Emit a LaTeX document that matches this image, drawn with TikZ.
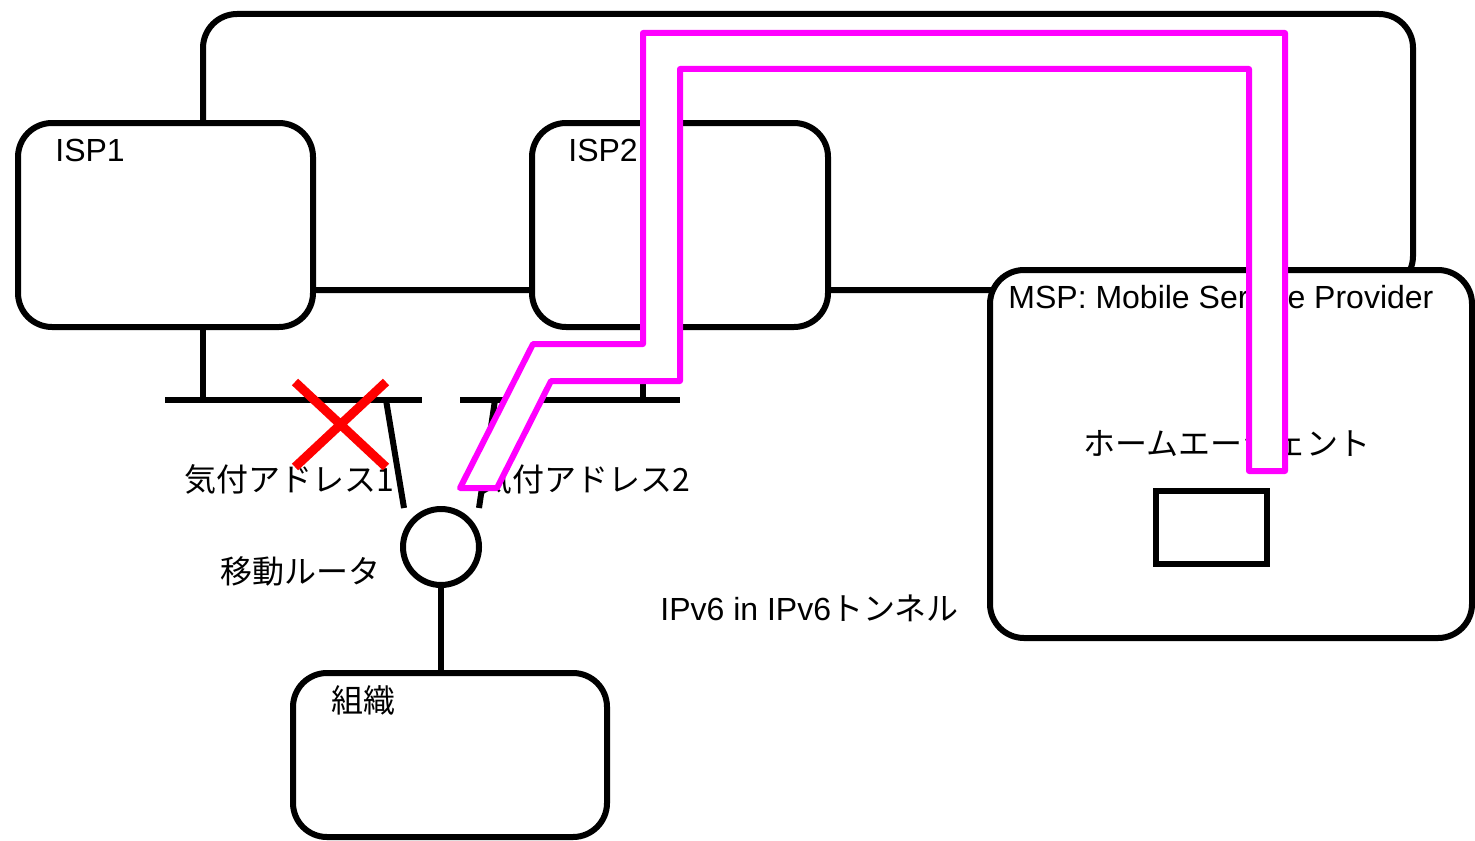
\documentclass[tikz,border=0pt]{standalone}
\usepackage{fontspec}
\setmainfont{Liberation Sans}
\newfontfamily\jp{Noto Sans CJK JP}
\usetikzlibrary{calc}
\definecolor{tubepink}{RGB}{255,0,255}
\definecolor{crossred}{RGB}{255,0,0}

\begin{document}
\begin{tikzpicture}[x=0.5pt, y=-0.5pt,
  box/.style={draw, line width=3pt, rounded corners=17pt, fill=white, inner sep=0pt},
  wire/.style={line width=3pt},
  lbl/.style={inner sep=0pt, font=\fontsize{16pt}{19pt}\selectfont},
  cross/.style={draw=crossred, line width=4.5pt},
  tube/.style={draw=tubepink, line width=3pt, fill=white, line join=round}]

  \useasboundingbox (0,0) rectangle (1475,840);

  % ----- backbone -----
  \node[box, minimum width=605pt, minimum height=138pt] at (808,152) (net) {};

  % ----- providers -----
  \node[box, minimum width=147.5pt, minimum height=102pt] at (165.5,225) (isp1) {};
  \node[box, minimum width=148pt, minimum height=102pt] at (680,225) (isp2) {};
  \node[box, minimum width=241pt, minimum height=184pt] at (1231,454) (msp) {};
  \node[draw, line width=3pt, inner sep=0pt, minimum width=55.5pt,
        minimum height=36.5pt] at (1211.5,527.5) (ha) {};

  % ----- mobile router and organisation -----
  \node[draw, circle, line width=3pt, fill=white, inner sep=0pt,
        minimum size=38pt] at (441,547) (mr) {};
  \node[box, minimum width=157pt, minimum height=82pt] at (450,755) (org) {};

  % ----- access links -----
  \coordinate (bus1w) at (165,400);
  \coordinate (bus1e) at (422,400);
  \coordinate (bus2w) at (460,400);
  \coordinate (bus2e) at (680,400);
  \coordinate (port1) at (203,400);
  \coordinate (port2) at (643,400);
  \coordinate (coa1top) at (386,400);
  \coordinate (coa1end) at (404,508);
  \coordinate (coa2top) at (495,400);
  \coordinate (coa2end) at (479,508);

  \draw[wire] (bus1w) -- (bus1e);
  \draw[wire] (bus2w) -- (bus2e);
  \draw[wire] (port1) -- (port1 |- isp1.south);
  \draw[wire] (port2) -- (port2 |- isp2.south);
  \draw[wire] (coa1top) -- (coa1end);
  \draw[wire] (coa2top) -- (coa2end);
  \draw[wire] (mr.south) -- (mr.south |- org.north);

  % ----- labels -----
  \node[lbl, anchor=base west] at (55,161) (isp1lbl) {ISP1};
  \node[lbl, anchor=base west] at (568,161) (isp2lbl) {ISP2};
  \node[lbl, anchor=base west] at (1008,308) (msplbl) {MSP: Mobile Service Provider};
  \node[lbl] at (1227,443) (halbl) {\jp ホームエージェント};
  \node[lbl, anchor=west] at (184,479) (coa1lbl) {\jp 気付アドレス1};
  \node[lbl, anchor=west] at (480,479) (coa2lbl) {\jp 気付アドレス2};
  \node[lbl, anchor=west] at (220,571) (mrlbl) {\jp 移動ルータ};
  \node[lbl, anchor=west] at (660,608) (tunlbl) {IPv6 in IPv6{\jp トンネル}};
  \node[lbl, anchor=west] at (331,700) (orglbl) {\jp 組織};

  % ----- broken link -----
  \draw[cross] (295,382) -- (386,467) (386,382) -- (295,467);

  % ----- tunnel -----
  \draw[tube] (460,488) -- (533,344) -- (643,344) -- (643,33) -- (1285,33)
    -- (1285,471) -- (1249,471) -- (1249,69) -- (680,69) -- (680,381)
    -- (551,381) -- (497,488) -- cycle;

\end{tikzpicture}
\end{document}
